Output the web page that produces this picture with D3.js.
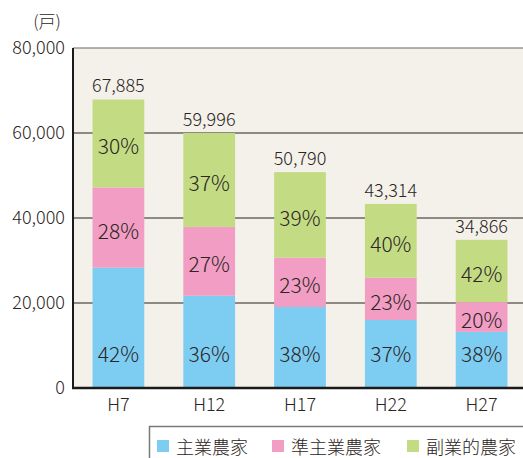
<!DOCTYPE html>
<html>
<head>
<meta charset="utf-8">
<script src="https://cdn.jsdelivr.net/npm/d3@7"></script>
<style>
  html, body { margin: 0; padding: 0; background: #ffffff; }
  svg text { font-family: "Noto Sans CJK JP", "Noto Sans", sans-serif; font-weight: 300; fill: #2b2523; }
</style>
</head>
<body>
<div id="chartDiv"></div>
<script>
const years = ['H7', 'H12', 'H17', 'H22', 'H27'];
const totals = [67885, 59996, 50790, 43314, 34866];
const mainFarm = [28300, 21700, 19060, 16000, 13200];
const semiFarm = [18900, 16200, 11600, 9980, 7000];
const sideFarm = [20685, 22096, 20130, 17334, 14666];
const mainPct = ['42%', '36%', '38%', '37%', '38%'];
const semiPct = ['28%', '27%', '23%', '23%', '20%'];
const sidePct = ['30%', '37%', '39%', '40%', '42%'];
const yTicks = [0, 20000, 40000, 60000, 80000];
const seriesNames = ['主業農家', '準主業農家', '副業的農家'];
const colors = ['#7dcdf3', '#f29dc3', '#c3db83'];

const W = 523, H = 458;
const plot = { left: 73, top: 48, right: 523, bottom: 388 };

const svg = d3.create('svg')
    .attr('width', W)
    .attr('height', H);

const x = d3.scaleBand()
    .domain(years)
    .range([plot.left, plot.left + 454])
    .paddingInner(0.43)
    .paddingOuter(0.215);

const y = d3.scaleLinear()
    .domain([0, 80000])
    .range([plot.bottom, plot.top]);

// plot background
svg.append('rect')
    .attr('x', plot.left)
    .attr('y', plot.top)
    .attr('width', plot.right - plot.left)
    .attr('height', plot.bottom - plot.top)
    .attr('fill', '#f4f1ea');

// grid lines
svg.selectAll('.grid')
    .data(yTicks.slice(1))
    .enter().append('line')
    .attr('x1', plot.left)
    .attr('x2', plot.right)
    .attr('y1', d => y(d))
    .attr('y2', d => y(d))
    .attr('stroke', '#6b6761')
    .attr('stroke-width', d => d === 80000 ? 1 : 1.5);

// stacked data
const rows = years.map((yr, i) => ({
    year: yr,
    main: mainFarm[i],
    semi: semiFarm[i],
    side: sideFarm[i]
}));
const keys = ['main', 'semi', 'side'];
const stacked = d3.stack().keys(keys)(rows);
const pctLabels = [mainPct, semiPct, sidePct];

stacked.forEach((layer, k) => {
    svg.append('g')
        .selectAll('rect')
        .data(layer)
        .enter().append('rect')
        .attr('x', d => x(d.data.year))
        .attr('width', x.bandwidth())
        .attr('y', d => y(d[1]))
        .attr('height', d => y(d[0]) - y(d[1]))
        .attr('fill', colors[k]);
});

// percent labels
stacked.forEach((layer, k) => {
    svg.append('g')
        .selectAll('text')
        .data(layer)
        .enter().append('text')
        .attr('x', d => x(d.data.year) + x.bandwidth() / 2)
        .attr('y', d => k === 0 ? y(8200) : y((d[0] + d[1]) / 2) + 2)
        .attr('text-anchor', 'middle')
        .attr('dominant-baseline', 'central')
        .attr('font-size', 21)
        .text((d, i) => pctLabels[k][i]);
});

// total labels
svg.append('g')
    .selectAll('text')
    .data(years)
    .enter().append('text')
    .attr('x', d => x(d) + x.bandwidth() / 2)
    .attr('y', (d, i) => y(totals[i]) - 7)
    .attr('text-anchor', 'middle')
    .attr('font-size', 18)
    .text((d, i) => d3.format(',')(totals[i]));

// axes
const yAxis = svg.append('g')
    .attr('transform', `translate(${plot.left},0)`)
    .call(d3.axisLeft(y).tickValues(yTicks).tickFormat(d3.format(',')).tickSize(0).tickPadding(8));
yAxis.select('.domain').remove();
yAxis.selectAll('text')
    .attr('font-size', 18)
    .attr('font-family', '"Noto Sans CJK JP", sans-serif')
    .attr('fill', '#2b2523');

const xAxis = svg.append('g')
    .attr('transform', `translate(0,${plot.bottom})`)
    .call(d3.axisBottom(x).tickSize(0).tickPadding(10));
xAxis.select('.domain').remove();
xAxis.selectAll('text')
    .attr('font-size', 18)
    .attr('font-family', '"Noto Sans CJK JP", sans-serif')
    .attr('fill', '#2b2523');

svg.append('line')
    .attr('x1', plot.left)
    .attr('x2', plot.left)
    .attr('y1', plot.top)
    .attr('y2', plot.bottom)
    .attr('stroke', '#1a1a1a')
    .attr('stroke-width', 2);

svg.append('line')
    .attr('x1', plot.left - 1)
    .attr('x2', plot.right)
    .attr('y1', plot.bottom)
    .attr('y2', plot.bottom)
    .attr('stroke', '#1a1a1a')
    .attr('stroke-width', 2.5);

// unit
svg.append('text')
    .attr('x', 47)
    .attr('y', 28)
    .attr('text-anchor', 'middle')
    .attr('font-size', 17)
    .text('(戸)');

// legend
svg.append('rect')
    .attr('x', 149.5)
    .attr('y', 426.5)
    .attr('width', 400)
    .attr('height', 60)
    .attr('fill', '#ffffff')
    .attr('stroke', '#7a7a7a')
    .attr('stroke-width', 1.5);

const legendX = [157, 272, 407];
const legend = svg.append('g')
    .selectAll('g')
    .data(seriesNames)
    .enter().append('g')
    .attr('transform', (d, i) => `translate(${legendX[i]},440)`);
legend.append('rect')
    .attr('width', 12)
    .attr('height', 12)
    .attr('fill', (d, i) => colors[i]);
legend.append('text')
    .attr('x', 19)
    .attr('y', 6)
    .attr('dominant-baseline', 'central')
    .attr('font-size', 18)
    .text(d => d);

d3.select('#chartDiv').append(() => svg.node());
</script>
</body>
</html>
